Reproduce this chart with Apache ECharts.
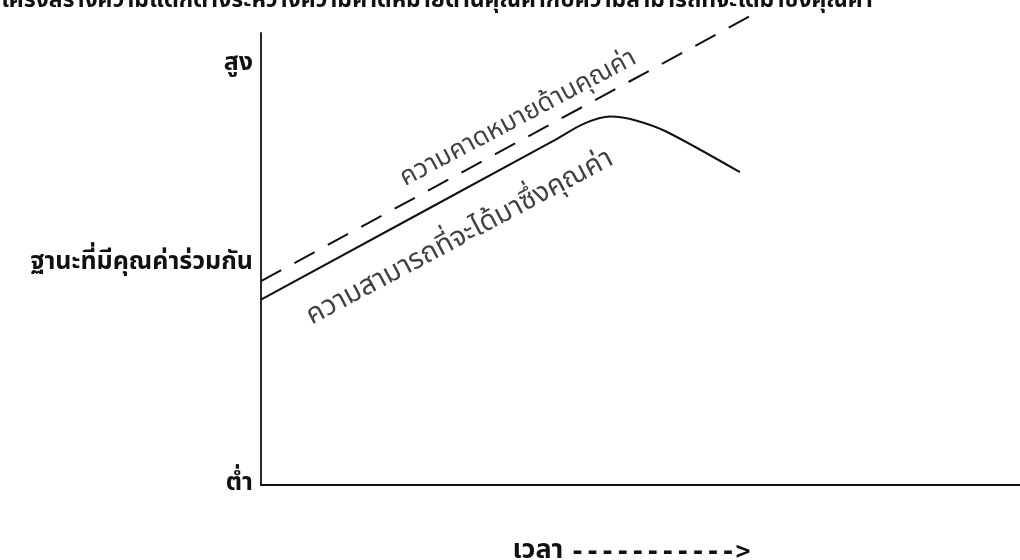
<!DOCTYPE html>
<html>
<head>
<meta charset="utf-8">
<script src="https://cdn.jsdelivr.net/npm/echarts@6/dist/echarts.min.js"></script>
<style>
  html, body { margin: 0; padding: 0; background: #fff; }
  #main { width: 1020px; height: 560px; }
</style>
</head>
<body>
<div id="main"></div>
<script>
// ข้อมูล (หน่วยของแกน 0-100)
var levelTicks = [0, 49, 93];
var levelNames = ['ต่ำ', 'ฐานะที่มีคุณค่าร่วมกัน', 'สูง'];

var expectX = [0, 64.4];
var expectY = [45.1, 103.7];

var capabX = [0, 39.0, 42.5, 46.0, 49.5, 53.5, 63.1];
var capabY = [41.0, 76.6, 79.9, 81.5, 80.6, 78.1, 69.2];

var noteNames = ['ความคาดหมายด้านคุณค่า', 'ความสามารถที่จะได้มาซึ่งคุณค่า'];
var noteX = [34.0, 26.3];
var noteY = [80.8, 54.4];

var thai = '"Noto Sans Thai", "Noto Sans", "DejaVu Sans", sans-serif';

function pairs(xs, ys) {
    return xs.map(function (x, i) { return [x, ys[i]]; });
}

var myChart = echarts.init(document.getElementById('main'));

var option = {
    backgroundColor: '#fff',
    animation: false,
    title: {
        text: 'โครงสร้างความแตกต่างระหว่างความคาดหมายด้านคุณค่ากับความสามารถที่จะได้มาซึ่งคุณค่า',
        left: -4,
        top: -14,
        textStyle: { fontFamily: thai, fontWeight: 'bold', fontSize: 23, color: '#111' }
    },
    grid: { left: 261, right: 0, top: 33, bottom: 75, outerBoundsMode: 'none', containLabel: false },
    xAxis: {
        type: 'value',
        min: 0,
        max: 100,
        name: '{t|เวลา}  {a|----------->}',
        nameLocation: 'middle',
        nameGap: 54,
        nameTextStyle: {
            padding: [0, 18, 0, 0],
            rich: {
                t: { fontFamily: thai, fontWeight: 'bold', fontSize: 27, color: '#111' },
                a: { fontFamily: '"DejaVu Sans Mono", monospace', fontWeight: 'bold', fontSize: 25, color: '#111' }
            }
        },
        axisLine: { show: true, lineStyle: { color: '#111', width: 1.8 } },
        axisTick: { show: false },
        axisLabel: { show: false },
        splitLine: { show: false }
    },
    yAxis: {
        type: 'value',
        min: 0,
        max: 100,
        axisLine: { show: true, lineStyle: { color: '#111', width: 1.8 } },
        axisTick: { show: false },
        splitLine: { show: false },
        axisLabel: {
            customValues: levelTicks,
            margin: 8,
            fontFamily: thai,
            fontWeight: 'bold',
            fontSize: 25,
            color: '#111',
            formatter: function (v) {
                var i = levelTicks.indexOf(v);
                return i >= 0 ? levelNames[i] : '';
            }
        }
    },
    series: [
        {
            name: noteNames[0],
            type: 'line',
            clip: false,
            symbol: 'none',
            lineStyle: { color: '#111', width: 2, type: [23, 15] },
            data: pairs(expectX, expectY)
        },
        {
            name: noteNames[1],
            type: 'line',
            clip: false,
            symbol: 'none',
            smooth: 0.3,
            lineStyle: { color: '#111', width: 2 },
            data: pairs(capabX, capabY)
        },
        {
            type: 'scatter',
            symbolSize: 0,
            silent: true,
            data: noteNames.map(function (n, i) {
                return { name: n, value: [noteX[i], noteY[i]], label: { fontSize: i ? 28 : 26 } };
            }),
            label: {
                show: true,
                position: 'inside',
                rotate: 28,
                formatter: '{b}',
                fontFamily: thai,
                fontSize: 26,
                color: '#111'
            }
        }
    ]
};

myChart.setOption(option);
</script>
</body>
</html>
